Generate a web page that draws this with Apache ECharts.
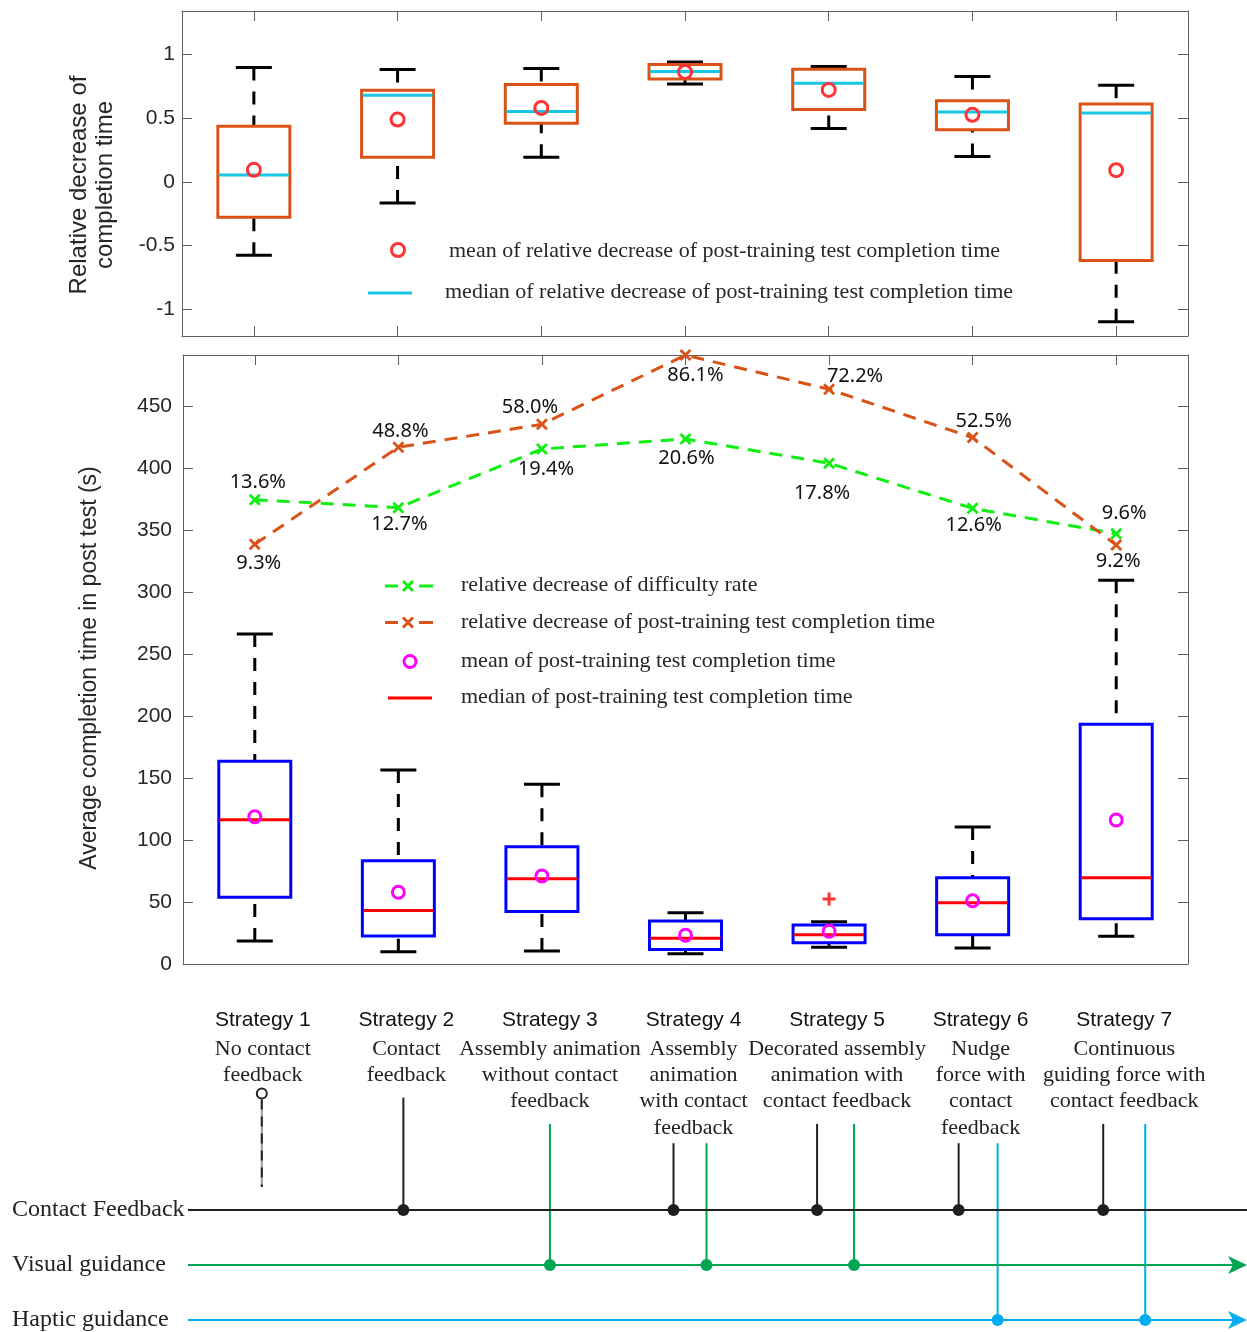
<!DOCTYPE html>
<html><head><meta charset="utf-8">
<script src="https://cdn.jsdelivr.net/npm/echarts@6/dist/echarts.min.js"></script>
<style>html,body{margin:0;padding:0;background:#fff}#c{width:1247px;height:1332px}</style>
</head><body><div id="c"></div>
<script>
// ---------- data ----------
var strategies = ['Strategy 1','Strategy 2','Strategy 3','Strategy 4','Strategy 5','Strategy 6','Strategy 7'];
var descriptions = [
  ['No contact','feedback'],
  ['Contact','feedback'],
  ['Assembly animation','without contact','feedback'],
  ['Assembly','animation','with contact','feedback'],
  ['Decorated assembly','animation with','contact feedback'],
  ['Nudge','force with','contact','feedback'],
  ['Continuous','guiding force with','contact feedback']
];
var rowNames = ['Contact Feedback','Visual guidance','Haptic guidance'];
var contactFlags = [0,1,0,1,1,1,1];
var visualFlags  = [0,0,1,1,1,0,0];
var hapticFlags  = [0,0,0,0,0,1,1];

// relative decrease of completion time (top)
var relMax  = [0.898, 0.882, 0.890, 0.942, 0.906, 0.827, 0.759];
var relQ3   = [0.437, 0.720, 0.764, 0.921, 0.885, 0.636, 0.612];
var relMed  = [0.054, 0.680, 0.552, 0.866, 0.775, 0.549, 0.541];
var relQ1   = [-0.278, 0.193, 0.460, 0.808, 0.568, 0.408, -0.618];
var relMin  = [-0.577, -0.166, 0.193, 0.769, 0.419, 0.199, -1.100];
var relMean = [0.094, 0.489, 0.580, 0.863, 0.722, 0.526, 0.091];
var relTicks = [-1, -0.5, 0, 0.5, 1];

// average completion time in post test (middle)
var timeMax  = [266.5, 156.6, 145.1, 41.4, 34.2, 110.6, 309.8];
var timeQ3   = [163.7, 83.4, 94.7, 34.7, 31.5, 69.7, 193.5];
var timeMed  = [116.5, 43.1, 68.9, 20.7, 23.7, 49.5, 69.7];
var timeQ1   = [53.8, 22.6, 42.3, 11.8, 17.2, 23.7, 36.6];
var timeMin  = [18.6, 9.9, 10.5, 8.3, 13.5, 12.9, 22.4];
var timeMean = [118.9, 57.9, 71.1, 23.2, 26.4, 51.1, 116.3];
var timeOutliers = [[4, 52.5]];
var timeTicks = [0, 50, 100, 150, 200, 250, 300, 350, 400, 450];

var difficultyLine   = [374.9, 368.4, 415.8, 423.9, 404.3, 367.9, 347.4];
var difficultyLabels = ['13.6%','12.7%','19.4%','20.6%','17.8%','12.6%','9.6%'];
var completionLine   = [338.9, 417.2, 435.8, 491.6, 464.0, 425.0, 338.3];
var completionLabels = ['9.3%','48.8%','58.0%','86.1%','72.2%','52.5%','9.2%'];

// ---------- styling ----------
var difficultyOffsets = [[3,-17],[1,17],[4,20],[1,19],[-7,30],[1,17],[8,-20]];
var completionOffsets = [[4,19],[2,-16],[-12,-17],[10,20],[26,-13],[11,-16],[2,16]];
var stemDx = [[7],[5],[8],[-12,21],[-12,25],[-14,25],[-13,29]];
var rowColors = ['#1f1f1f','#00A651','#00AEEF'];
var SERIF = 'Liberation Serif';
var SANS = 'Liberation Sans';
var TXT = '#262626';
var AX = '#5f5f5f';
var XMARK = 'path://M0,2 L2,0 L6,4 L10,0 L12,2 L8,6 L12,10 L10,12 L6,8 L2,12 L0,10 L4,6 Z';
var PLUS = 'path://M5,0 H8 V5 H13 V8 H8 V13 H5 V8 H0 V5 H5 Z';

function zip6(a,b,c,d,e){ return a.map(function(_,i){ return [i, a[i], b[i], c[i], d[i], e[i]]; }); }
var relBox = zip6(relMin, relQ1, relMed, relQ3, relMax);
var timeBox = zip6(timeMin, timeQ1, timeMed, timeQ3, timeMax);

function makeBoxRender(boxColor, medColor) {
  return function (params, api) {
    var i = api.value(0);
    var pMin = api.coord([i, api.value(1)]);
    var pQ1 = api.coord([i, api.value(2)]);
    var pMed = api.coord([i, api.value(3)]);
    var pQ3 = api.coord([i, api.value(4)]);
    var pMax = api.coord([i, api.value(5)]);
    var cx = pMin[0], hw = 36, cw = 18;
    var ws = {stroke:'#000', lineWidth:3, lineDash:[13,11]};
    var cs = {stroke:'#000', lineWidth:3};
    return {type:'group', children:[
      {type:'line', shape:{x1:cx,y1:pMax[1],x2:cx,y2:pQ3[1]}, style:ws},
      {type:'line', shape:{x1:cx,y1:pMin[1],x2:cx,y2:pQ1[1]}, style:ws},
      {type:'line', shape:{x1:cx-cw,y1:pMax[1],x2:cx+cw,y2:pMax[1]}, style:cs},
      {type:'line', shape:{x1:cx-cw,y1:pMin[1],x2:cx+cw,y2:pMin[1]}, style:cs},
      {type:'rect', shape:{x:cx-hw,y:pQ3[1],width:2*hw,height:pQ1[1]-pQ3[1]}, style:{fill:'none', stroke:boxColor, lineWidth:3}},
      {type:'line', shape:{x1:cx-hw+1,y1:pMed[1],x2:cx+hw-1,y2:pMed[1]}, style:{stroke:medColor, lineWidth:3}}
    ]};
  };
}
function makeMeanRender(color, r) {
  return function (params, api) {
    var p = api.coord([api.value(0), api.value(1)]);
    return {type:'circle', shape:{cx:p[0], cy:p[1], r:r}, style:{fill:'none', stroke:color, lineWidth:3}};
  };
}

function rowYs(api, i) { return [0,1,2].map(function(r){ return api.coord([i, r])[1]; }); }

function stratRender(params, api) {
  var i = api.value(0);
  var ys = rowYs(api, i);
  var cx = api.coord([i, 0])[0];
  var tx = cx + 8;
  var yTitle = ys[0] - 190, yDesc = ys[0] - 161, lh = 26.3;
  var ch = [{type:'text', x:tx, y:yTitle, style:{text:strategies[i], fontFamily:SANS, fontSize:21, fill:'#111', align:'center', verticalAlign:'middle'}}];
  var lines = descriptions[i];
  lines.forEach(function(t, k){
    ch.push({type:'text', x:tx, y:yDesc + k*lh, style:{text:t, fontFamily:SERIF, fontSize:22, fill:'#222', align:'center', verticalAlign:'middle'}});
  });
  var top = yDesc + lines.length*lh - (lines.length === 4 ? 11 : 4);
  var flags = [contactFlags[i], visualFlags[i], hapticFlags[i]];
  var k = 0;
  var any = false;
  for (var f = 0; f < 3; f++) {
    if (flags[f]) {
      any = true;
      var x = cx + stemDx[i][k++];
      ch.push({type:'line', shape:{x1:x,y1:top,x2:x,y2:ys[f]}, style:{stroke:rowColors[f], lineWidth:2}});
    }
  }
  if (!any) {
    var x0 = cx + stemDx[i][0];
    ch.push({type:'line', shape:{x1:x0,y1:top+2,x2:x0,y2:ys[0]-23}, style:{stroke:'#9a9a9a', lineWidth:2}});
    ch.push({type:'line', shape:{x1:x0,y1:top+2,x2:x0,y2:ys[0]-23}, style:{stroke:'#222', lineWidth:2, lineDash:[10,7]}});
    ch.push({type:'circle', shape:{cx:x0, cy:top-4, r:5}, style:{fill:'#fff', stroke:'#222', lineWidth:2}});
  }
  return {type:'group', children:ch};
}

function dotRender(params, api) {
  var i = api.value(0);
  var ys = rowYs(api, i);
  var cx = api.coord([i, 0])[0];
  var flags = [contactFlags[i], visualFlags[i], hapticFlags[i]];
  var ch = [], k = 0;
  for (var f = 0; f < 3; f++) {
    if (flags[f]) {
      var x = cx + stemDx[i][k++];
      ch.push({type:'circle', shape:{cx:x, cy:ys[f], r:6}, style:{fill:rowColors[f]}});
    }
  }
  return {type:'group', children:ch};
}

function rowRender(params, api) {
  var r = api.value(1);
  var y = api.coord([0, r])[1];
  var x0 = params.coordSys.x + 5, x1 = api.getWidth();
  var col = rowColors[r];
  var ch = [{type:'line', shape:{x1:x0,y1:y,x2:(r>0 ? x1-8 : x1),y2:y}, style:{stroke:col, lineWidth:2}}];
  if (r > 0) ch.push({type:'polygon', shape:{points:[[x1-19,y-9],[x1,y],[x1-19,y+9],[x1-14,y]]}, style:{fill:col}});
  return {type:'group', children:ch};
}

function valAxis(grid, pos, min, max, ticks, showLabel, margin) {
  return {type:'value', gridIndex:grid, position:pos, min:min, max:max,
    axisLine:{show:true, lineStyle:{color:AX, width:1}},
    axisTick:{show:true, inside:true, length:10, customValues:ticks, lineStyle:{color:AX, width:1}},
    axisLabel:{show:showLabel, customValues:ticks, margin:margin, fontFamily:SANS, fontSize:21, color:TXT},
    splitLine:{show:false}};
}
function catAxis(grid, pos, ticks) {
  return {type:'category', gridIndex:grid, position:pos, data:strategies, boundaryGap:true,
    axisLine:{show:true, onZero:false, lineStyle:{color:AX, width:1}},
    axisTick:{show:ticks, inside:true, length:10, alignWithLabel:true, lineStyle:{color:AX, width:1}},
    axisLabel:{show:false}, splitLine:{show:false}};
}

var legendText = function(x, y, t){ return {type:'text', x:x, y:y, style:{text:t, fontFamily:SERIF, fontSize:22, fill:TXT, align:'left', verticalAlign:'middle'}}; };
var xm = function(cx, cy, col){ return [
  {type:'line', shape:{x1:cx-5,y1:cy-5,x2:cx+5,y2:cy+5}, style:{stroke:col, lineWidth:3}},
  {type:'line', shape:{x1:cx+5,y1:cy-5,x2:cx-5,y2:cy+5}, style:{stroke:col, lineWidth:3}}]; };
var graphics = [
  {type:'text', x:79, y:185, rotation:Math.PI/2, style:{text:'Relative decrease of', fontFamily:SANS, fontSize:24, fill:TXT, align:'center', verticalAlign:'middle'}},
  {type:'text', x:105, y:185, rotation:Math.PI/2, style:{text:'completion time', fontFamily:SANS, fontSize:24, fill:TXT, align:'center', verticalAlign:'middle'}},
  {type:'text', x:90, y:668, rotation:Math.PI/2, style:{text:'Average completion time in post test (s)', fontFamily:SANS, fontSize:23, fill:TXT, align:'center', verticalAlign:'middle'}},
  {type:'circle', shape:{cx:398, cy:250, r:6.5}, style:{fill:'none', stroke:'#FF3333', lineWidth:3}},
  legendText(449, 251, 'mean of relative decrease of post-training test completion time'),
  {type:'line', shape:{x1:368,y1:293,x2:412,y2:293}, style:{stroke:'#16C6E4', lineWidth:3}},
  legendText(445, 292, 'median of relative decrease of post-training test completion time'),
  {type:'line', shape:{x1:385,y1:586,x2:398,y2:586}, style:{stroke:'#11EE11', lineWidth:3}},
  {type:'line', shape:{x1:419,y1:586,x2:433,y2:586}, style:{stroke:'#11EE11', lineWidth:3}},
  legendText(461, 585, 'relative decrease of difficulty rate'),
  {type:'line', shape:{x1:385,y1:622.5,x2:398,y2:622.5}, style:{stroke:'#D95319', lineWidth:3}},
  {type:'line', shape:{x1:419,y1:622.5,x2:433,y2:622.5}, style:{stroke:'#D95319', lineWidth:3}},
  legendText(461, 622, 'relative decrease of post-training test completion time'),
  {type:'circle', shape:{cx:410, cy:661.5, r:6}, style:{fill:'none', stroke:'#FF00FF', lineWidth:3}},
  legendText(461, 661, 'mean of post-training test completion time'),
  {type:'line', shape:{x1:388,y1:698,x2:432,y2:698}, style:{stroke:'#FF0000', lineWidth:3}},
  legendText(461, 697, 'median of post-training test completion time')
].concat(xm(408, 586, '#11EE11')).concat(xm(408, 622.5, '#D95319'));

var option = {
  animation:false,
  backgroundColor:'#fff',
  grid:[
    {left:182, right:59, top:11, height:325},
    {left:183, right:59, top:355, height:609},
    {left:183, right:59, top:1210, height:112}
  ],
  xAxis:[
    catAxis(0,'bottom',true), catAxis(0,'top',true),
    catAxis(1,'bottom',false), catAxis(1,'top',true),
    {type:'category', gridIndex:2, data:strategies, show:false, boundaryGap:true}
  ],
  yAxis:[
    valAxis(0,'left',-1.212,1.342,relTicks,true,7),
    valAxis(0,'right',-1.212,1.342,relTicks,false,7),
    valAxis(1,'left',0,491.7,timeTicks,true,11),
    valAxis(1,'right',0,491.7,timeTicks,false,11),
    {type:'category', gridIndex:2, data:rowNames, inverse:true, boundaryGap:false,
      axisLine:{show:false}, axisTick:{show:false}, splitLine:{show:false},
      axisLabel:{show:true, align:'left', margin:171, fontFamily:SERIF, fontSize:24, color:'#222'}}
  ],
  graphic: graphics,
  series:[
    {type:'custom', xAxisIndex:0, yAxisIndex:0, renderItem:makeBoxRender('#D95319','#16C6E4'), data:relBox, encode:{x:0, y:[1,2,3,4,5]}, z:2},
    {type:'custom', xAxisIndex:0, yAxisIndex:0, renderItem:makeMeanRender('#FF3333', 6.5), data:relMean.map(function(v,i){return [i,v];}), encode:{x:0,y:1}, z:3},
    {type:'custom', xAxisIndex:2, yAxisIndex:2, renderItem:makeBoxRender('#0000FF','#FF0000'), data:timeBox, encode:{x:0, y:[1,2,3,4,5]}, z:2},
    {type:'custom', xAxisIndex:2, yAxisIndex:2, renderItem:makeMeanRender('#FF00FF', 6), data:timeMean.map(function(v,i){return [i,v];}), encode:{x:0,y:1}, z:3},
    {type:'scatter', xAxisIndex:2, yAxisIndex:2, data:timeOutliers, symbol:PLUS, symbolSize:13, itemStyle:{color:'#FF0000'}, z:3},
    {type:'line', xAxisIndex:2, yAxisIndex:2, clip:false, z:4,
      data:difficultyLine.map(function(v,i){return {value:v, label:{offset:difficultyOffsets[i]}};}),
      symbol:XMARK, symbolSize:12, itemStyle:{color:'#11EE11'},
      lineStyle:{color:'#11EE11', width:3, type:[13,9]},
      label:{show:true, position:'inside', fontFamily:'Noto Sans', fontSize:20, color:'#111',
        formatter:function(p){return difficultyLabels[p.dataIndex];}}},
    {type:'line', xAxisIndex:2, yAxisIndex:2, clip:false, z:4,
      data:completionLine.map(function(v,i){return {value:v, label:{offset:completionOffsets[i]}};}),
      symbol:XMARK, symbolSize:12, itemStyle:{color:'#D95319'},
      lineStyle:{color:'#D95319', width:3, type:[13,9]},
      label:{show:true, position:'inside', fontFamily:'Noto Sans', fontSize:20, color:'#111',
        formatter:function(p){return completionLabels[p.dataIndex];}}},
    {type:'custom', xAxisIndex:4, yAxisIndex:4, clip:false, renderItem:stratRender, data:strategies.map(function(s,i){return [i,0];}), encode:{x:0,y:1}, z:1},
    {type:'custom', xAxisIndex:4, yAxisIndex:4, clip:false, renderItem:rowRender, data:rowNames.map(function(s,r){return [0,r];}), encode:{x:0,y:1}, z:2},
    {type:'custom', xAxisIndex:4, yAxisIndex:4, clip:false, renderItem:dotRender, data:strategies.map(function(s,i){return [i,0];}), encode:{x:0,y:1}, z:3}
  ]
};
var chart = echarts.init(document.getElementById('c'), null, {renderer:'canvas'});
chart.setOption(option);
</script>
</body></html>
